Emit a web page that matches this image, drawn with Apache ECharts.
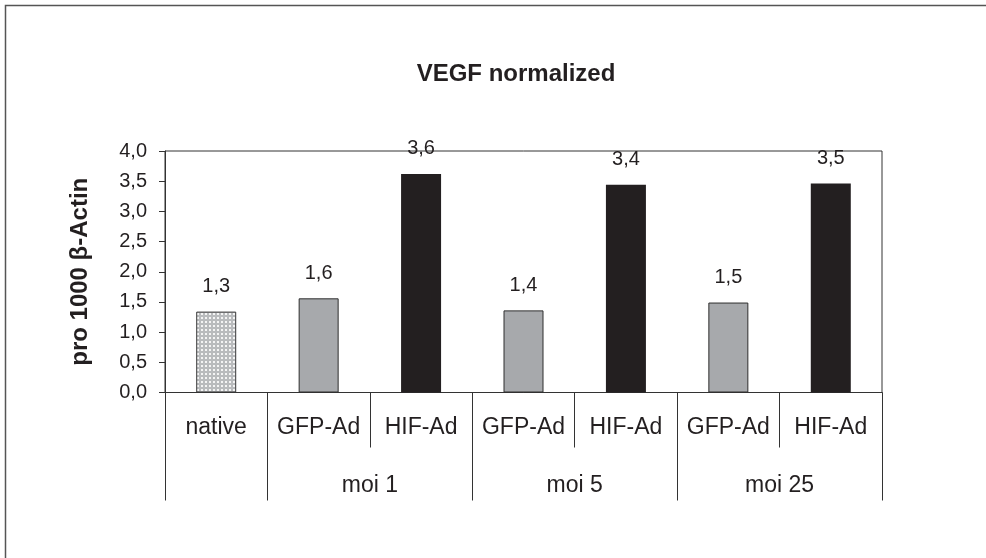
<!DOCTYPE html>
<html>
<head>
<meta charset="utf-8">
<script src="https://cdn.jsdelivr.net/npm/echarts@6/dist/echarts.min.js"></script>
<style>
html,body{margin:0;padding:0;background:#fff;}
#c{width:986px;height:558px;}
</style>
</head>
<body>
<div id="c"></div>
<script>
// ---- data ----
var categories = ['native', 'GFP-Ad', 'HIF-Ad', 'GFP-Ad', 'HIF-Ad', 'GFP-Ad', 'HIF-Ad'];
var values = [1.34, 1.56, 3.62, 1.36, 3.44, 1.49, 3.46];
var groupNames = ['', 'moi 1', 'moi 5', 'moi 25'];
var groupSizes = [1, 2, 2, 2];
var yTicks = [0, 0.5, 1, 1.5, 2, 2.5, 3, 3.5, 4];
var titleText = 'VEGF normalized';
var yName = 'pro 1000 \u03b2-Actin';

// ---- derived group boundaries / centers ----
var boundaries = [0], centers = [], acc = 0;
for (var i = 0; i < groupSizes.length; i++) {
  centers.push(acc + groupSizes[i] / 2);
  acc += groupSizes[i];
  boundaries.push(acc);
}

// ---- pattern for native bar ----
var pc = document.createElement('canvas');
pc.width = 4; pc.height = 4;
var pctx = pc.getContext('2d');
pctx.fillStyle = '#b9bbbd';
pctx.fillRect(0, 0, 4, 4);
pctx.fillStyle = '#f4f4f4';
pctx.fillRect(1, 1, 2, 2);

var fonts = "'Liberation Sans', Arial, sans-serif";
var ink = '#231f20';

function styleFor(cat) {
  if (cat === 'native') return { color: { image: pc, repeat: 'repeat' }, borderColor: '#3a3a3a', borderWidth: 1 };
  if (cat === 'GFP-Ad') return { color: '#a7a9ac', borderColor: '#2e2e2e', borderWidth: 1 };
  return { color: ink, borderWidth: 0 };
}

var seriesData = values.map(function (v, i) {
  return { value: v, itemStyle: styleFor(categories[i]) };
});

var chart = echarts.init(document.getElementById('c'), null, { renderer: 'canvas' });
chart.setOption({
  animation: false,
  backgroundColor: '#fff',
  textStyle: { fontFamily: fonts, color: ink },
  graphic: [{
    type: 'rect', left: 3, top: 3, silent: true,
    shape: { x: 0, y: 0, width: 1100, height: 700 },
    style: { fill: 'none', stroke: '#555', lineWidth: 1.5 }
  }],
  title: {
    text: titleText, left: 511, top: 57, textAlign: 'center',
    textStyle: { fontFamily: fonts, fontWeight: 'bold', fontSize: 24, color: ink }
  },
  grid: {
    left: 165, right: 104, top: 151, bottom: 165.5,
    show: true, borderColor: '#333', borderWidth: 1, backgroundColor: 'transparent'
  },
  xAxis: [{
    type: 'category', data: categories, position: 'bottom',
    boundaryGap: true,
    axisLine: { show: true, lineStyle: { color: '#333', width: 1 } },
    axisTick: { show: true, interval: 0, alignWithLabel: false, length: 55, lineStyle: { color: '#333' } },
    axisLabel: { interval: 0, margin: 24, fontSize: 23, color: ink, fontFamily: fonts },
    splitLine: { show: false }
  }, {
    type: 'value', min: 0, max: boundaries[boundaries.length - 1], position: 'bottom',
    axisLine: { show: false },
    axisTick: { show: true, customValues: boundaries, length: 108, lineStyle: { color: '#333' } },
    axisLabel: {
      show: true, customValues: centers.slice(1), margin: 82, fontSize: 23, color: ink, fontFamily: fonts,
      formatter: function (v) {
        for (var k = 0; k < centers.length; k++) if (Math.abs(centers[k] - v) < 1e-6) return groupNames[k];
        return '';
      }
    },
    splitLine: { show: false }
  }],
  yAxis: {
    type: 'value', min: yTicks[0], max: yTicks[yTicks.length - 1], interval: yTicks[1] - yTicks[0],
    name: yName, nameLocation: 'middle', nameGap: 73, nameRotate: 90,
    nameTextStyle: { fontFamily: fonts, fontWeight: 'bold', fontSize: 24, color: ink },
    axisLine: { show: true, lineStyle: { color: '#333', width: 1 } },
    axisTick: { show: true, inside: false, length: 6, lineStyle: { color: '#333' } },
    axisLabel: {
      margin: 18, fontSize: 20, color: ink, fontFamily: fonts,
      formatter: function (v) { return v.toFixed(1).replace('.', ','); }
    },
    splitLine: { show: false }
  },
  series: [{
    type: 'bar', xAxisIndex: 0, yAxisIndex: 0,
    data: seriesData, barWidth: 40,
    label: {
      show: true, position: 'top', distance: 15, fontSize: 20, color: ink, fontFamily: fonts,
      formatter: function (p) { return p.value.toFixed(1).replace('.', ','); }
    }
  }]
});
</script>
</body>
</html>
